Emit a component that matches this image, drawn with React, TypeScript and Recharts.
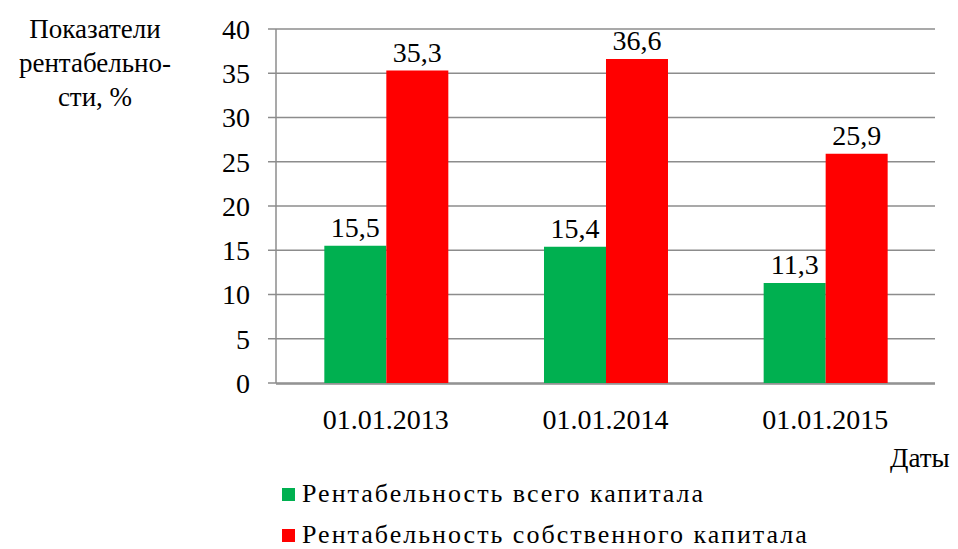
import { Bar, BarChart, CartesianGrid, LabelList, XAxis, YAxis } from "recharts";

const dates = ["01.01.2013", "01.01.2014", "01.01.2015"];
const totalCapital = [15.5, 15.4, 11.3];
const equityCapital = [35.3, 36.6, 25.9];
const yTicks = [0, 5, 10, 15, 20, 25, 30, 35, 40];
const seriesNames = ["Рентабельность всего капитала", "Рентабельность собственного капитала"];
const seriesColors = ["#00B050", "#FF0000"];

const FONT = "Liberation Serif, Tinos, Times New Roman, DejaVu Serif, serif";
const GRAY = "#8c8c8c";

const data = dates.map((date, i) => ({
  date,
  total: totalCapital[i],
  equity: equityCapital[i],
}));

// comma as decimal separator, like the original
const formatValue = (v: number) => v.toFixed(1).replace(".", ",");

export default function App() {
  return (
    <div style={{ position: "absolute", left: 0, top: 0, width: 958, height: 549, fontFamily: FONT, color: "#000" }}>
      <BarChart
        width={958}
        height={549}
        data={data}
        margin={{ top: 29, right: 23, left: 0, bottom: 164 }}
        barCategoryGap="22%"
        barGap={0}
      >
        <CartesianGrid vertical={false} stroke={GRAY} strokeWidth={1.5} />
        {/* second axis only for the tick marks between categories */}
        <XAxis
          xAxisId="edge"
          type="number"
          domain={[0, 3]}
          ticks={[0, 1, 2, 3]}
          height={1}
          tick={false}
          tickSize={8}
          axisLine={{ stroke: GRAY, strokeWidth: 1.5 }}
          tickLine={{ stroke: GRAY, strokeWidth: 1.5 }}
        />
        <XAxis
          dataKey="date"
          height={1}
          interval={0}
          axisLine={false}
          tickLine={false}
          tickSize={0}
          tickMargin={26}
          tick={{ fill: "#000", fontSize: 28, fontFamily: FONT }}
        />
        <YAxis
          width={276}
          domain={[0, 40]}
          ticks={yTicks}
          interval={0}
          tickSize={8}
          tickMargin={18}
          axisLine={{ stroke: GRAY, strokeWidth: 1.5 }}
          tickLine={{ stroke: GRAY, strokeWidth: 1.5 }}
          tick={{ fill: "#000", fontSize: 28, fontFamily: FONT }}
        />
        <Bar dataKey="total" fill={seriesColors[0]} isAnimationActive={false}>
          <LabelList dataKey="total" position="top" offset={9} formatter={formatValue} fill="#000" fontSize={28} fontFamily={FONT} />
        </Bar>
        <Bar dataKey="equity" fill={seriesColors[1]} isAnimationActive={false}>
          <LabelList dataKey="equity" position="top" offset={9} formatter={formatValue} fill="#000" fontSize={28} fontFamily={FONT} />
        </Bar>
      </BarChart>

      <div
        style={{
          position: "absolute",
          left: 0,
          top: 12,
          width: 190,
          textAlign: "center",
          fontSize: 27,
          lineHeight: "34px",
        }}
      >
        Показатели
        <br />
        рентабельно-
        <br />
        сти, %
      </div>

      <div style={{ position: "absolute", left: 890, top: 441, fontSize: 27, lineHeight: "34px" }}>Даты</div>

      <div style={{ position: "absolute", left: 282, top: 481, fontSize: 26, letterSpacing: 2 }}>
        {seriesNames.map((name, i) => (
          <div
            key={name}
            style={{ display: "flex", alignItems: "center", height: 26, lineHeight: "26px", marginTop: i ? 15 : 0 }}
          >
            <span style={{ width: 13, height: 13, background: seriesColors[i], marginRight: 7, display: "inline-block" }} />
            {name}
          </div>
        ))}
      </div>
    </div>
  );
}
